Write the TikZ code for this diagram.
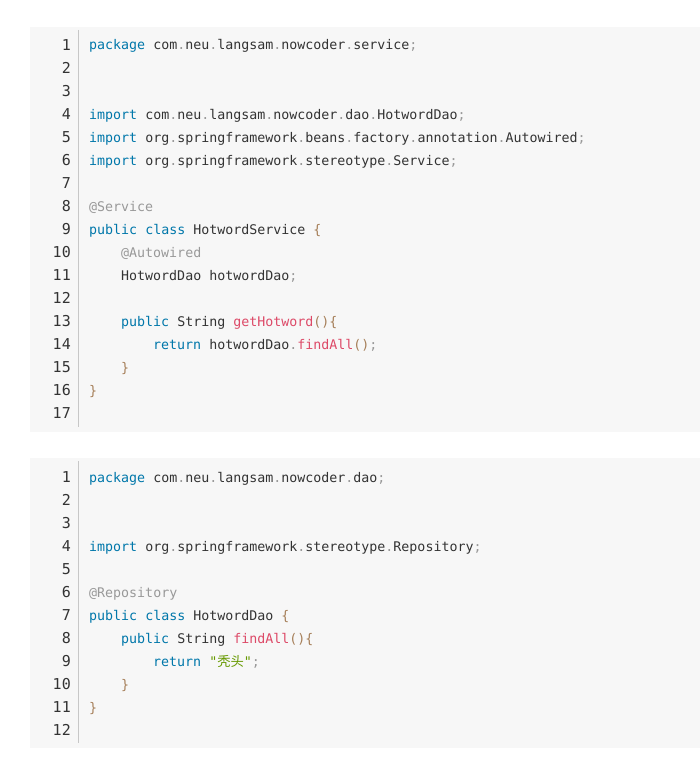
\documentclass[tikz,border=0pt]{standalone}
\usepackage{fontspec}
\setmonofont{DejaVu Sans Mono}[Scale=1]
\newfontfamily\cjk{Noto Sans CJK SC}
\definecolor{bgc}{HTML}{F7F7F7}
\definecolor{kw}{HTML}{0077AA}
\definecolor{pu}{HTML}{999999}
\definecolor{br}{HTML}{A67F59}
\definecolor{fn}{HTML}{DD4A68}
\definecolor{st}{HTML}{669900}
\definecolor{an}{HTML}{999999}
\definecolor{tx}{HTML}{333333}
\newcommand\Kw[1]{\textcolor{kw}{#1}}
\newcommand\Dt{\textcolor{pu}{.}}
\newcommand\Sc{\textcolor{pu}{;}}
\newcommand\Br[1]{\textcolor{br}{#1}}
\newcommand\Fn[1]{\textcolor{fn}{#1}}
\newcommand\An[1]{\textcolor{an}{#1}}
\begin{document}
\begin{tikzpicture}[x=1pt,y=-1pt,
  code/.style={anchor=base west,inner sep=0,font=\ttfamily\fontsize{13.3}{14}\selectfont,text=tx},
  num/.style={anchor=base east,inner sep=0,font=\ttfamily\fontsize{15}{16}\selectfont,text=tx},
  blk/.style={fill=bgc,draw=none},
  gut/.style={draw=black!22,line width=1pt}]
\useasboundingbox (0,0) rectangle (700,760);
\fill[white] (0,0) rectangle (700,760);
\fill[blk] (30,27) rectangle (700,432);
\fill[blk] (30,458) rectangle (700,748);
\draw[gut] (78,30) -- (78,427);
\draw[gut] (78,461) -- (78,743);
% block 1
\foreach \i in {1,...,17}{\node[num] (n\i) at (71,{50.5+23*(\i-1)}) {\i};}
\node[code] (a1) at (89,50) {\Kw{package} com\Dt neu\Dt langsam\Dt nowcoder\Dt service\Sc};
\node[code] (a4) at (89,119) {\Kw{import} com\Dt neu\Dt langsam\Dt nowcoder\Dt dao\Dt HotwordDao\Sc};
\node[code] (a5) at (89,142) {\Kw{import} org\Dt springframework\Dt beans\Dt factory\Dt annotation\Dt Autowired\Sc};
\node[code] (a6) at (89,165) {\Kw{import} org\Dt springframework\Dt stereotype\Dt Service\Sc};
\node[code] (a8) at (89,211) {\An{@Service}};
\node[code] (a9) at (89,234) {\Kw{public} \Kw{class} HotwordService \Br{\{}};
\node[code] (a10) at (121,257) {\An{@Autowired}};
\node[code] (a11) at (121,280) {HotwordDao hotwordDao\Sc};
\node[code] (a13) at (121,326) {\Kw{public} String \Fn{getHotword}\Br{()\{}};
\node[code] (a14) at (153,349) {\Kw{return} hotwordDao\Dt\Fn{findAll}\Br{()}\Sc};
\node[code] (a15) at (121,372) {\Br{\}}};
\node[code] (a16) at (89,395) {\Br{\}}};
% block 2
\foreach \i in {1,...,12}{\node[num] (m\i) at (71,{482.5+23*(\i-1)}) {\i};}
\node[code] (b1) at (89,482) {\Kw{package} com\Dt neu\Dt langsam\Dt nowcoder\Dt dao\Sc};
\node[code] (b4) at (89,551) {\Kw{import} org\Dt springframework\Dt stereotype\Dt Repository\Sc};
\node[code] (b6) at (89,597) {\An{@Repository}};
\node[code] (b7) at (89,620) {\Kw{public} \Kw{class} HotwordDao \Br{\{}};
\node[code] (b8) at (121,643) {\Kw{public} String \Fn{findAll}\Br{()\{}};
\node[code] (b9) at (153,666) {\Kw{return} \textcolor{st}{"{\cjk 秃头}"}\Sc};
\node[code] (b10) at (121,689) {\Br{\}}};
\node[code] (b11) at (89,712) {\Br{\}}};
\end{tikzpicture}
\end{document}
